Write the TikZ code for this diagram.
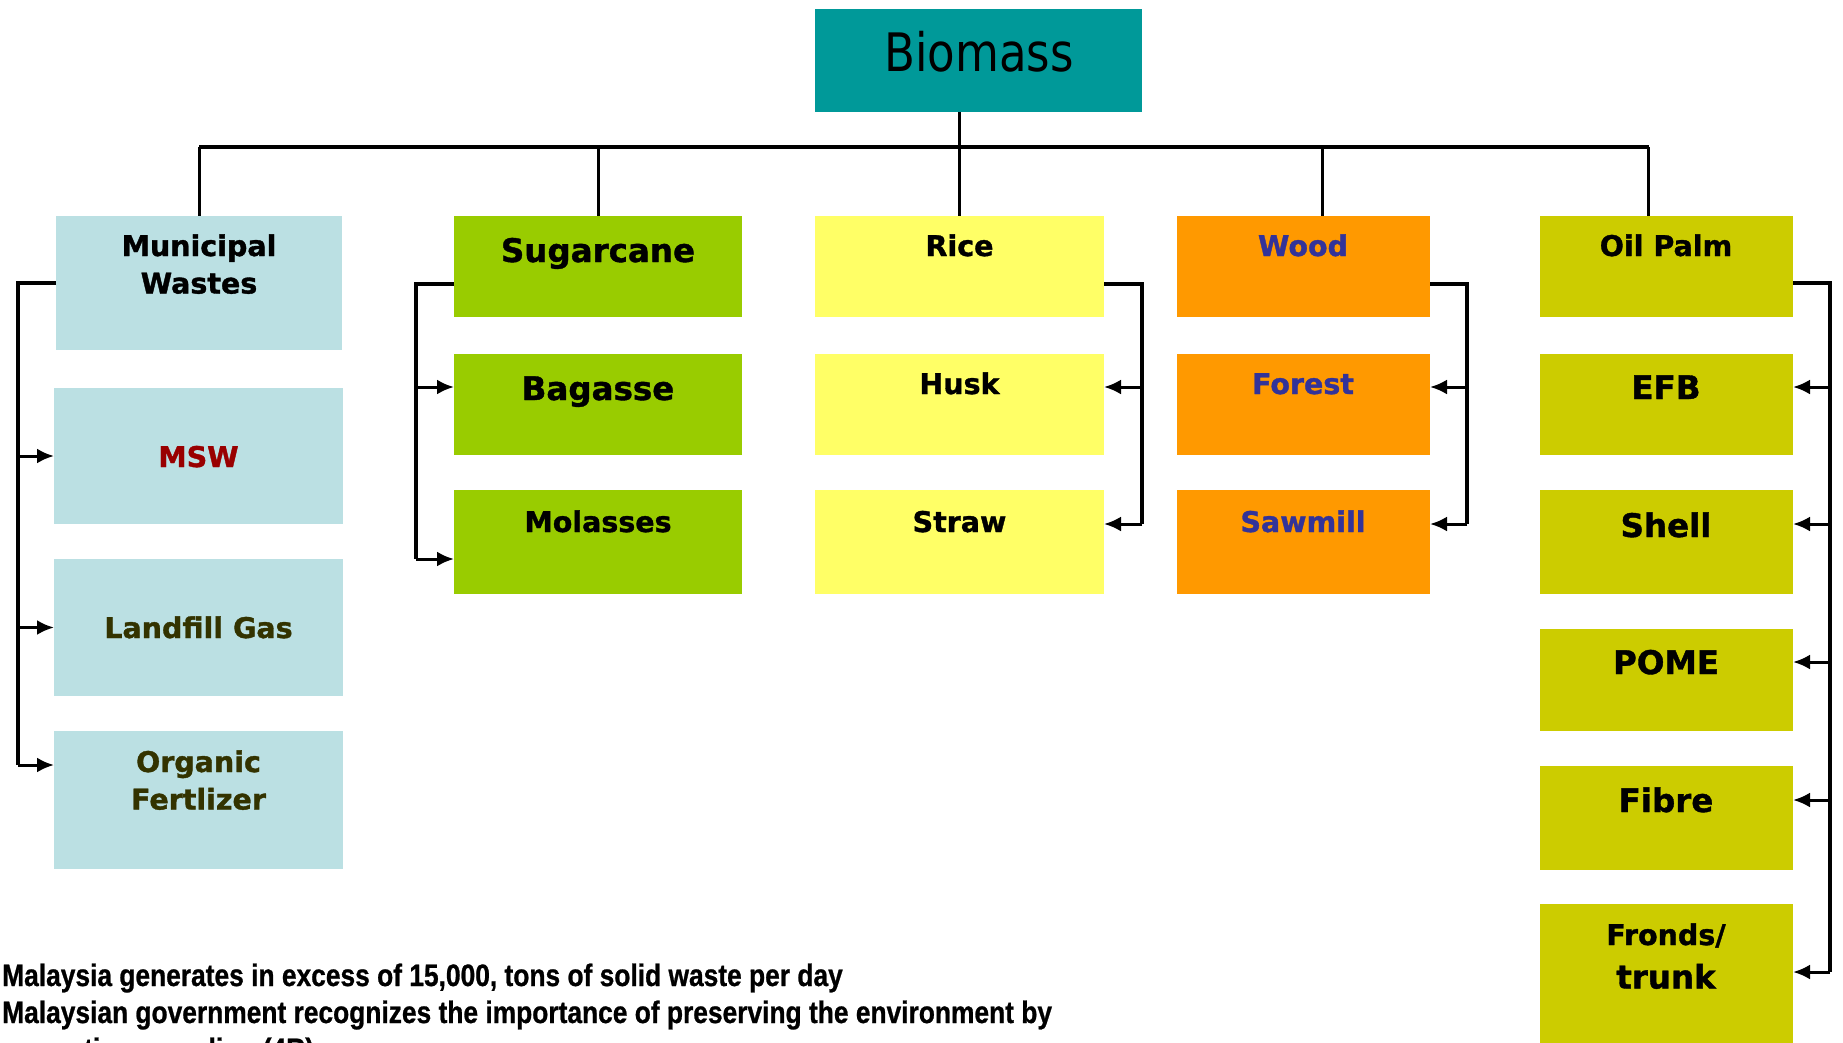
\documentclass[tikz,border=0pt]{standalone}
\usepackage{fontspec}
\setmainfont{DejaVu Sans}[BoldFeatures={FakeBold=1.2}]
\newfontfamily\ttlfont{DejaVu Sans}[FakeStretch=0.85]
\newfontfamily\notefont{Liberation Sans}[FakeStretch=0.85,BoldFeatures={FakeBold=0.8}]
\usetikzlibrary{arrows.meta}
\definecolor{cBio}{RGB}{0,153,153}
\definecolor{cMun}{RGB}{187,224,227}
\definecolor{cSug}{RGB}{153,204,0}
\definecolor{cRice}{RGB}{255,255,102}
\definecolor{cWood}{RGB}{255,153,0}
\definecolor{cPalm}{RGB}{204,204,0}
\definecolor{tRed}{RGB}{153,0,0}
\definecolor{tOlive}{RGB}{51,51,0}
\definecolor{tBlue}{RGB}{51,51,153}
\newcommand\twolines[2]{\vtop{\halign{\hfil##\hfil\cr#1\cr#2\cr}}}
\begin{document}
\begin{tikzpicture}[x=1pt,y=-1pt,
  bx/.style={draw=none,inner sep=0pt,outer sep=0pt,anchor=north west},
  lbl/.style={inner sep=0pt,outer sep=0pt,anchor=base,font=\bfseries\fontsize{28.5}{37.5}\selectfont},
  lblbig/.style={lbl,font=\bfseries\fontsize{32.5}{40}\selectfont},
  bar/.style={line width=4.5pt},
  drop/.style={line width=3pt},
  brk/.style={line width=4pt,line join=miter},
  arr/.style={line width=3pt,-{Latex[length=17pt,width=15pt]}}]
\useasboundingbox (0,0) rectangle (1843,1042);
\clip (0,0) rectangle (1843,1042);
% boxes
\node[bx,fill=cBio,minimum width=327pt,minimum height=103pt] (bio) at (815,9) {};
\node[bx,fill=cMun,minimum width=286pt,minimum height=134pt] (mun) at (56,216) {};
\node[bx,fill=cMun,minimum width=289pt,minimum height=136pt] (msw) at (54,388) {};
\node[bx,fill=cMun,minimum width=289pt,minimum height=137pt] (lfg) at (54,559) {};
\node[bx,fill=cMun,minimum width=289pt,minimum height=138pt] (org) at (54,731) {};
\node[bx,fill=cSug,minimum width=288pt,minimum height=101pt] (sug) at (454,216) {};
\node[bx,fill=cSug,minimum width=288pt,minimum height=101pt] (bag) at (454,354) {};
\node[bx,fill=cSug,minimum width=288pt,minimum height=104pt] (mol) at (454,490) {};
\node[bx,fill=cRice,minimum width=289pt,minimum height=101pt] (rice) at (815,216) {};
\node[bx,fill=cRice,minimum width=289pt,minimum height=101pt] (husk) at (815,354) {};
\node[bx,fill=cRice,minimum width=289pt,minimum height=104pt] (straw) at (815,490) {};
\node[bx,fill=cWood,minimum width=253pt,minimum height=101pt] (wood) at (1177,216) {};
\node[bx,fill=cWood,minimum width=253pt,minimum height=101pt] (forest) at (1177,354) {};
\node[bx,fill=cWood,minimum width=253pt,minimum height=104pt] (saw) at (1177,490) {};
\node[bx,fill=cPalm,minimum width=253pt,minimum height=101pt] (palm) at (1540,216) {};
\node[bx,fill=cPalm,minimum width=253pt,minimum height=101pt] (efb) at (1540,354) {};
\node[bx,fill=cPalm,minimum width=253pt,minimum height=104pt] (shell) at (1540,490) {};
\node[bx,fill=cPalm,minimum width=253pt,minimum height=102pt] (pome) at (1540,629) {};
\node[bx,fill=cPalm,minimum width=253pt,minimum height=104pt] (fibre) at (1540,766) {};
\node[bx,fill=cPalm,minimum width=253pt,minimum height=150pt] (fronds) at (1540,904) {};
% labels
\node[inner sep=0pt,anchor=base,font=\ttlfont\fontsize{53}{60}\selectfont] (bio-t) at (979,71) {Biomass};
\node[lbl] (mun-t) at (199,256) {\twolines{Municipal}{Wastes}};
\node[lbl,text=tRed] (msw-t) at (198.5,467) {MSW};
\node[lbl,text=tOlive] (lfg-t) at (198.5,638) {Landfill Gas};
\node[lbl,text=tOlive] (org-t) at (198.5,772) {\twolines{Organic}{Fertlizer}};
\node[lblbig] (sug-t) at (598,262) {Sugarcane};
\node[lblbig] (bag-t) at (598,400) {Bagasse};
\node[lbl] (mol-t) at (598,532) {Molasses};
\node[lbl] (rice-t) at (959.5,256) {Rice};
\node[lbl] (husk-t) at (959.5,394) {Husk};
\node[lbl] (straw-t) at (959.5,532) {Straw};
\node[lbl,text=tBlue] (wood-t) at (1303,256) {Wood};
\node[lbl,text=tBlue] (forest-t) at (1303,394) {Forest};
\node[lbl,text=tBlue] (saw-t) at (1303,532) {Sawmill};
\node[lbl] (palm-t) at (1666,256) {Oil Palm};
\node[lblbig] (efb-t) at (1666,399) {EFB};
\node[lblbig] (shell-t) at (1666,537) {Shell};
\node[lblbig] (pome-t) at (1666,674) {POME};
\node[lblbig] (fibre-t) at (1666,812) {Fibre};
\node[lbl,font=\bfseries\fontsize{28.5}{43.5}\selectfont] (fronds-t) at (1666,945) {\twolines{Fronds/}{\fontsize{32.5}{40}\selectfont trunk}};
% tree
\coordinate (pdrop) at ([xshift=-18pt]palm.north);
\coordinate (wdrop) at ([xshift=19pt]wood.north);
\coordinate (barL) at (mun.north |- 0,147);
\coordinate (barR) at (pdrop |- barL);
\draw[bar] (barL) -- (barR);
\draw[drop] (bio.south -| rice.north) -- (rice.north);
\draw[drop] (barL) -- (mun.north);
\draw[drop] (sug.north |- barL) -- (sug.north);
\draw[drop] (wdrop |- barL) -- (wdrop);
\draw[drop] (barR) -- (pdrop);
% municipal bracket
\coordinate (mc) at (18,765);
\draw[brk] (mun.west) -| (mc);
\draw[arr] (mc |- msw.west) -- (msw.west);
\draw[arr] (mc |- lfg.west) -- (lfg.west);
\draw[arr] (mc) -- (mc -| org.west);
% sugarcane bracket
\coordinate (sc) at (416,559);
\coordinate (bagA) at ([yshift=-33pt]bag.north west);
\draw[brk] ([yshift=-68pt]sug.north west) -| (sc);
\draw[arr] (sc |- bagA) -- (bagA);
\draw[arr] (sc) -- (sc -| mol.west);
% rice bracket
\coordinate (rc) at (1142,524);
\coordinate (huskA) at ([yshift=-33pt]husk.north east);
\draw[brk] ([yshift=-68pt]rice.north east) -| (rc);
\draw[arr] (rc |- huskA) -- (huskA);
\draw[arr] (rc) -- (rc -| straw.east);
% wood bracket
\coordinate (wc) at (1467,524);
\coordinate (forA) at ([yshift=-33pt]forest.north east);
\draw[brk] ([yshift=-68pt]wood.north east) -| (wc);
\draw[arr] (wc |- forA) -- (forA);
\draw[arr] (wc) -- (wc -| saw.east);
% oil palm bracket
\coordinate (oc) at (1830,972);
\coordinate (efbA) at ([yshift=-33pt]efb.north east);
\coordinate (shellA) at ([yshift=-34pt]shell.north east);
\coordinate (pomeA) at ([yshift=-33pt]pome.north east);
\coordinate (fibreA) at ([yshift=-34pt]fibre.north east);
\draw[brk] ([yshift=-67pt]palm.north east) -| (oc);
\draw[arr] (oc |- efbA) -- (efbA);
\draw[arr] (oc |- shellA) -- (shellA);
\draw[arr] (oc |- pomeA) -- (pomeA);
\draw[arr] (oc |- fibreA) -- (fibreA);
\draw[arr] (oc) -- (oc -| fronds.east);
% note
\node[inner sep=0pt,anchor=base west,font=\notefont\bfseries\fontsize{31}{37}\selectfont] (note) at (2,986)
  {\vtop{\hbox{Malaysia generates in excess of 15,000, tons of solid waste per day}\hbox{Malaysian government recognizes the importance of preserving the environment by}\hbox{promoting recycling (4R)}}};
\end{tikzpicture}
\end{document}
